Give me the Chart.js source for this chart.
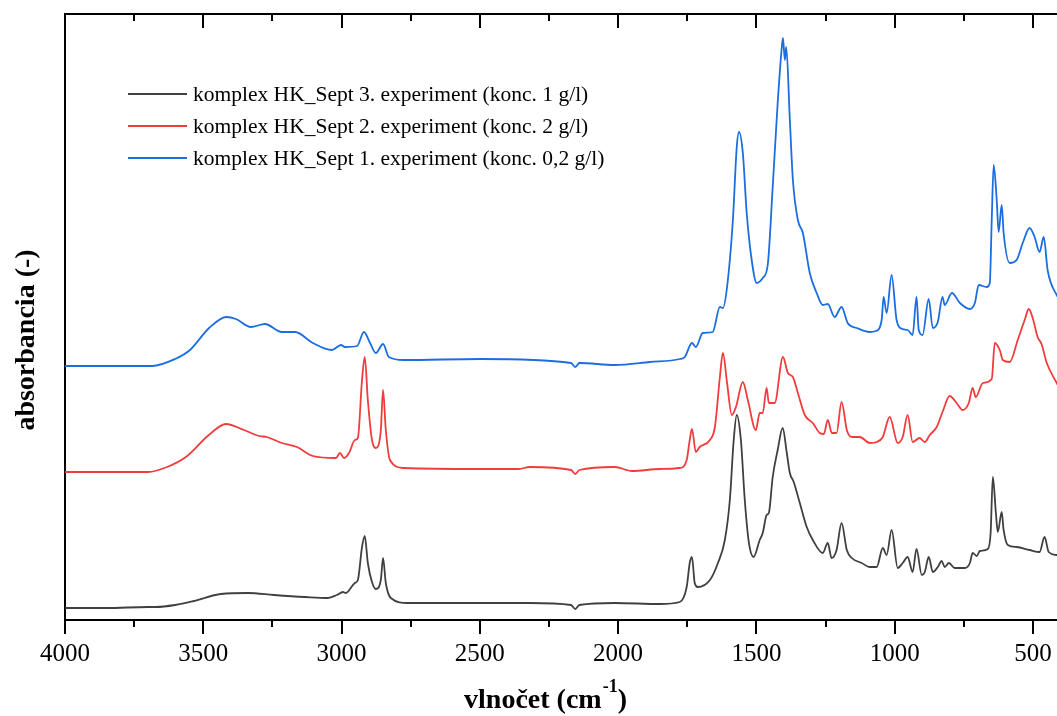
<!DOCTYPE html>
<html>
<head>
<meta charset="utf-8">
<script src="https://cdn.jsdelivr.net/npm/chart.js@4"></script>
<style>
  html, body { margin: 0; padding: 0; background: #fff; overflow: hidden; }
  #wrap { width: 1057px; height: 716px; }
</style>
</head>
<body>
<div id="wrap"><canvas id="ir" width="1057" height="716"></canvas></div>
<script>
// wavenumbers (cm-1) and absorbance (offset, arbitrary units)
const wnBlack = [4000,3850,3700,3671,3602,3534,3436,3338,3244,3132,3049,3017,2995,2985,2952,2941,2926,2916,2905,2890,2876,2858,2850,2840,2822,2760,2500,2320,2170,2155,2140,2012,1849,1777,1752,1741,1733,1723,1712,1668,1639,1614,1596,1582,1571,1556,1542,1527,1510,1488,1477,1463,1455,1441,1423,1405,1390,1379,1365,1343,1318,1296,1260,1242,1228,1210,1192,1173,1155,1119,1090,1065,1043,1029,1011,989,971,953,935,921,902,891,877,862,844,830,819,804,783,746,728,718,703,692,663,653,645,634,627,613,606,591,559,512,476,458,443,414,400];
const absBlack = [0.12,0.12,0.13,0.13,0.15,0.19,0.26,0.27,0.25,0.23,0.22,0.25,0.28,0.27,0.37,0.40,0.73,0.84,0.57,0.38,0.31,0.40,0.62,0.37,0.22,0.17,0.17,0.17,0.15,0.11,0.15,0.17,0.16,0.18,0.33,0.57,0.63,0.37,0.33,0.40,0.57,0.80,1.20,1.80,2.05,1.80,1.20,0.77,0.63,0.80,0.87,1.05,1.07,1.43,1.70,1.92,1.67,1.47,1.38,1.17,0.93,0.80,0.67,0.77,0.62,0.70,0.97,0.70,0.62,0.57,0.53,0.53,0.72,0.65,0.90,0.52,0.57,0.63,0.48,0.71,0.45,0.48,0.63,0.48,0.53,0.59,0.53,0.57,0.52,0.52,0.57,0.67,0.64,0.69,0.71,0.87,1.43,1.07,0.88,1.08,0.90,0.75,0.73,0.70,0.68,0.83,0.68,0.65,0.64];

const wnRed = [4000,3850,3700,3631,3563,3480,3418,3353,3298,3270,3216,3161,3104,3020,3006,2991,2973,2952,2941,2926,2916,2905,2890,2876,2858,2850,2840,2825,2775,2500,2359,2320,2170,2155,2140,2012,1950,1849,1777,1752,1741,1733,1719,1705,1668,1650,1632,1621,1606,1589,1574,1549,1531,1502,1488,1477,1463,1455,1434,1404,1386,1368,1350,1325,1296,1271,1256,1242,1227,1210,1192,1173,1155,1126,1090,1065,1043,1018,989,971,953,935,910,891,873,848,827,801,776,754,732,718,707,681,649,638,620,609,584,555,530,515,501,483,469,450,414,400];
const absRed = [1.48,1.48,1.48,1.53,1.63,1.85,1.96,1.90,1.84,1.83,1.77,1.73,1.64,1.62,1.67,1.62,1.67,1.80,1.82,2.40,2.63,2.20,1.80,1.72,1.90,2.30,1.90,1.60,1.52,1.51,1.51,1.53,1.50,1.46,1.50,1.53,1.49,1.51,1.52,1.60,1.80,1.91,1.68,1.73,1.80,1.93,2.43,2.67,2.37,2.05,2.13,2.38,2.20,1.90,2.07,2.07,2.32,2.17,2.17,2.63,2.47,2.43,2.27,2.05,1.97,1.87,1.86,2.00,1.87,1.87,2.18,1.90,1.83,1.83,1.77,1.78,1.83,2.03,1.77,1.83,2.05,1.78,1.82,1.78,1.85,1.93,2.08,2.24,2.17,2.10,2.17,2.32,2.23,2.37,2.41,2.77,2.70,2.60,2.58,2.80,3.00,3.11,3.02,2.83,2.76,2.57,2.37,2.30];

const wnBlue = [4000,3850,3685,3602,3548,3479,3416,3382,3328,3277,3216,3168,3104,3035,3002,2988,2944,2919,2897,2876,2850,2829,2775,2496,2170,2155,2140,2012,1885,1777,1759,1733,1719,1694,1658,1632,1621,1606,1585,1571,1563,1549,1535,1517,1499,1477,1459,1441,1423,1408,1404,1397,1392,1379,1368,1350,1332,1307,1282,1260,1242,1217,1192,1170,1137,1090,1068,1047,1040,1029,1011,993,972,953,935,921,913,899,877,862,844,827,819,793,764,728,710,696,667,656,649,642,631,624,613,606,584,559,537,512,494,476,461,447,414,400];
const absBlue = [2.54,2.54,2.54,2.61,2.70,2.92,3.03,3.01,2.93,2.96,2.88,2.88,2.77,2.70,2.75,2.73,2.74,2.88,2.77,2.67,2.76,2.63,2.60,2.61,2.57,2.53,2.57,2.55,2.58,2.61,2.63,2.77,2.73,2.87,2.88,3.13,3.12,3.33,4.00,4.73,4.88,4.67,4.07,3.60,3.37,3.42,3.55,4.33,5.17,5.73,5.82,5.60,5.73,5.00,4.40,4.00,3.87,3.47,3.27,3.15,3.16,3.03,3.13,2.97,2.92,2.88,2.89,3.00,3.23,3.07,3.45,3.00,2.91,2.90,2.85,3.23,2.90,2.85,3.21,2.92,2.98,3.23,3.15,3.27,3.17,3.11,3.17,3.35,3.33,3.37,4.00,4.55,4.20,3.88,4.15,3.87,3.57,3.60,3.77,3.92,3.83,3.68,3.83,3.50,3.25,3.20];

const labels = [
  'komplex HK_Sept 3. experiment (konc. 1 g/l)',
  'komplex HK_Sept 2. experiment (konc. 2 g/l)',
  'komplex HK_Sept 1. experiment (konc. 0,2 g/l)'
];
const colors = ['#404040', '#f03c3c', '#1c6de0'];
const xTicks = [4000, 3500, 3000, 2500, 2000, 1500, 1000, 500];

const serif = '"Liberation Serif", "Times New Roman", serif';

const pts = (wn, ab) => wn.map((x, i) => ({x: x, y: ab[i]}));

// ticks, top frame, legend, axis titles
const extras = {
  id: 'extras',
  afterDraw(chart) {
    const ctx = chart.ctx;
    const a = chart.chartArea;
    const xs = chart.scales.x;
    ctx.save();
    ctx.strokeStyle = '#000';
    ctx.lineWidth = 2;
    ctx.beginPath();
    ctx.moveTo(a.left, a.top);
    ctx.lineTo(a.right, a.top);
    for (let v = 500; v <= 4000; v += 250) {
      const px = Math.round(xs.getPixelForValue(v));
      const len = v % 500 === 0 ? 14 : 7;
      ctx.moveTo(px, a.bottom);
      ctx.lineTo(px, a.bottom + len);
      ctx.moveTo(px, a.top);
      ctx.lineTo(px, a.top + len);
    }
    ctx.stroke();

    // legend
    ctx.font = '21.5px ' + serif;
    ctx.textBaseline = 'middle';
    ctx.fillStyle = '#000';
    chart.data.datasets.forEach((ds, i) => {
      const y = 94 + i * 32;
      ctx.strokeStyle = ds.borderColor;
      ctx.lineWidth = 2;
      ctx.beginPath();
      ctx.moveTo(128, y);
      ctx.lineTo(187, y);
      ctx.stroke();
      ctx.fillText(ds.label, 193, y + 1);
    });

    // x title with superscript
    ctx.textBaseline = 'alphabetic';
    const main = 'vlnočet (cm';
    ctx.font = 'bold 28px ' + serif;
    const w1 = ctx.measureText(main).width;
    const w3 = ctx.measureText(')').width;
    ctx.font = 'bold 18px ' + serif;
    const w2 = ctx.measureText('-1').width;
    let x0 = 545 - (w1 + w2 + w3) / 2;
    ctx.font = 'bold 28px ' + serif;
    ctx.fillText(main, x0, 708);
    ctx.font = 'bold 18px ' + serif;
    ctx.fillText('-1', x0 + w1 + 1, 692);
    ctx.font = 'bold 28px ' + serif;
    ctx.fillText(')', x0 + w1 + w2 + 1, 708);

    // y title
    ctx.translate(27, 340);
    ctx.rotate(-Math.PI / 2);
    ctx.textAlign = 'center';
    ctx.textBaseline = 'middle';
    ctx.fillText('absorbancia (-)', 0, 0);
    ctx.restore();
  }
};

new Chart(document.getElementById('ir'), {
  type: 'line',
  data: {
    datasets: [
      {label: labels[0], data: pts(wnBlack, absBlack), borderColor: colors[0]},
      {label: labels[1], data: pts(wnRed, absRed), borderColor: colors[1]},
      {label: labels[2], data: pts(wnBlue, absBlue), borderColor: colors[2]}
    ]
  },
  options: {
    responsive: false,
    animation: false,
    devicePixelRatio: 1,
    layout: {padding: {top: 14, right: 0, left: 0, bottom: 0}},
    elements: {
      point: {radius: 0},
      line: {borderWidth: 1.8, fill: false, cubicInterpolationMode: 'monotone'}
    },
    plugins: {legend: {display: false}, tooltip: {enabled: false}},
    scales: {
      x: {
        type: 'linear',
        reverse: true,
        min: 413,
        max: 4000,
        afterBuildTicks: s => { s.ticks = xTicks.map(v => ({value: v})); },
        afterFit: s => { s.height = 96; s.paddingLeft = 0; s.paddingRight = 0; },
        grid: {display: false, drawTicks: false},
        border: {display: true, color: '#000', width: 2},
        ticks: {
          font: {family: serif, size: 25},
          color: '#000',
          padding: 19,
          maxRotation: 0,
          autoSkip: false,
          callback: v => String(v)
        }
      },
      y: {
        min: 0,
        max: 6.06,
        afterFit: s => { s.width = 65; },
        grid: {display: false, drawTicks: false},
        border: {display: true, color: '#000', width: 2},
        ticks: {display: false}
      }
    }
  },
  plugins: [extras]
});
</script>
</body>
</html>
